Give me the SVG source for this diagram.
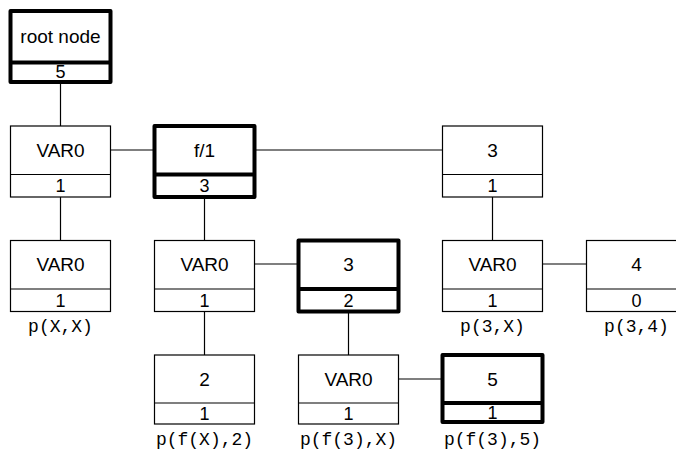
<svg xmlns="http://www.w3.org/2000/svg" width="676" height="453" viewBox="0 0 676 453">
<style>
.box{fill:#fff;stroke:#000;stroke-width:1.2}
.thick{fill:#fff;stroke:#000;stroke-width:4;stroke-linejoin:round}
.div{stroke:#000;stroke-width:1.2}
.divt{stroke:#000;stroke-width:4}
.t{font-family:"Liberation Sans",Arial,sans-serif;font-size:19px;text-anchor:middle;fill:#000}
.n{font-family:"Liberation Sans",Arial,sans-serif;font-size:18px;text-anchor:middle;fill:#000}
.lbl{font-family:"Liberation Mono","Courier New",monospace;font-size:18px;text-anchor:middle;fill:#000}
.c{stroke:#000;stroke-width:1.2;fill:none}
</style>
<rect width="676" height="453" fill="#fff"/>
<g id="connectors">
<line class="c" x1="60.5" y1="82" x2="60.5" y2="126"/>
<line class="c" x1="110.5" y1="150" x2="154.5" y2="150"/>
<line class="c" x1="254.5" y1="150" x2="442.5" y2="150"/>
<line class="c" x1="60.5" y1="197" x2="60.5" y2="240.5"/>
<line class="c" x1="204.5" y1="197" x2="204.5" y2="240.5"/>
<line class="c" x1="492.5" y1="197" x2="492.5" y2="240.5"/>
<line class="c" x1="254.5" y1="264" x2="298.5" y2="264"/>
<line class="c" x1="542.5" y1="264" x2="586.5" y2="264"/>
<line class="c" x1="204.5" y1="311.5" x2="204.5" y2="355"/>
<line class="c" x1="348.5" y1="311.5" x2="348.5" y2="355"/>
<line class="c" x1="398.5" y1="379" x2="442.5" y2="379"/>
</g>
<g id="root">
<rect class="thick" x="10.5" y="11" width="100" height="71"/>
<line class="divt" x1="10.5" y1="62.5" x2="110.5" y2="62.5"/>
<text class="t" x="60.5" y="43">root node</text>
<text class="n" x="60.5" y="78">5</text>
</g>
<g id="n1">
<rect class="box" x="10.5" y="126" width="100" height="71"/>
<line class="div" x1="10.5" y1="174.5" x2="110.5" y2="174.5"/>
<text class="t" x="60.5" y="157">VAR0</text>
<text class="n" x="60.5" y="192">1</text>
</g>
<g id="n2">
<rect class="thick" x="154.5" y="126" width="100" height="71"/>
<line class="divt" x1="154.5" y1="174.5" x2="254.5" y2="174.5"/>
<text class="t" x="204.5" y="157">f/1</text>
<text class="n" x="204.5" y="192">3</text>
</g>
<g id="n3">
<rect class="box" x="442.5" y="126" width="100" height="71"/>
<line class="div" x1="442.5" y1="174.5" x2="542.5" y2="174.5"/>
<text class="t" x="492.5" y="157">3</text>
<text class="n" x="492.5" y="192">1</text>
</g>
<g id="n4">
<rect class="box" x="10.5" y="240.5" width="100" height="71"/>
<line class="div" x1="10.5" y1="289" x2="110.5" y2="289"/>
<text class="t" x="60.5" y="271">VAR0</text>
<text class="n" x="60.5" y="306.5">1</text>
<text class="lbl" x="60.5" y="332">p(X,X)</text>
</g>
<g id="n5">
<rect class="box" x="154.5" y="240.5" width="100" height="71"/>
<line class="div" x1="154.5" y1="289" x2="254.5" y2="289"/>
<text class="t" x="204.5" y="271">VAR0</text>
<text class="n" x="204.5" y="306.5">1</text>
</g>
<g id="n6">
<rect class="thick" x="298.5" y="240.5" width="100" height="71"/>
<line class="divt" x1="298.5" y1="289" x2="398.5" y2="289"/>
<text class="t" x="348.5" y="271">3</text>
<text class="n" x="348.5" y="306.5">2</text>
</g>
<g id="n7">
<rect class="box" x="442.5" y="240.5" width="100" height="71"/>
<line class="div" x1="442.5" y1="289" x2="542.5" y2="289"/>
<text class="t" x="492.5" y="271">VAR0</text>
<text class="n" x="492.5" y="306.5">1</text>
<text class="lbl" x="492.5" y="332">p(3,X)</text>
</g>
<g id="n8">
<rect class="box" x="586.5" y="240.5" width="100" height="71"/>
<line class="div" x1="586.5" y1="289" x2="686.5" y2="289"/>
<text class="t" x="636.5" y="271">4</text>
<text class="n" x="636.5" y="306.5">0</text>
<text class="lbl" x="636.5" y="332">p(3,4)</text>
</g>
<g id="n9">
<rect class="box" x="154.5" y="355" width="100" height="69"/>
<line class="div" x1="154.5" y1="403" x2="254.5" y2="403"/>
<text class="t" x="204.5" y="385.5">2</text>
<text class="n" x="204.5" y="420">1</text>
<text class="lbl" x="204.5" y="445">p(f(X),2)</text>
</g>
<g id="n10">
<rect class="box" x="298.5" y="355" width="100" height="69"/>
<line class="div" x1="298.5" y1="403" x2="398.5" y2="403"/>
<text class="t" x="348.5" y="385.5">VAR0</text>
<text class="n" x="348.5" y="420">1</text>
<text class="lbl" x="348.5" y="445">p(f(3),X)</text>
</g>
<g id="n11">
<rect class="thick" x="442.5" y="355" width="100" height="67"/>
<line class="divt" x1="442.5" y1="403" x2="542.5" y2="403"/>
<text class="t" x="492.5" y="385.5">5</text>
<text class="n" x="492.5" y="419">1</text>
<text class="lbl" x="492.5" y="445">p(f(3),5)</text>
</g>
</svg>
